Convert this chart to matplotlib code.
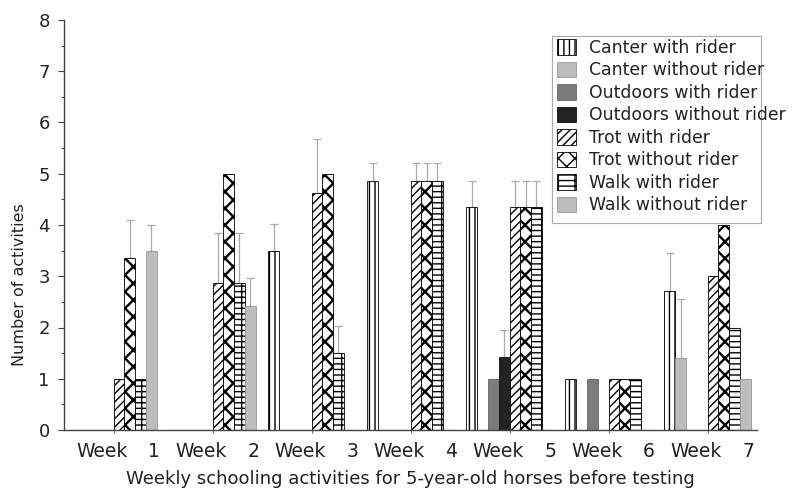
"""Weekly schooling activities for 5-year-old horses, grouped bars with hatching."""
import matplotlib

matplotlib.use("Agg")
import matplotlib.pyplot as plt
import matplotlib.patches as mpatches
import numpy as np

nan = np.nan

weeks = ["1", "2", "3", "4", "5", "6", "7"]

series_names = [
    "Canter with rider",
    "Canter without rider",
    "Outdoors with rider",
    "Outdoors without rider",
    "Trot with rider",
    "Trot without rider",
    "Walk with rider",
    "Walk without rider",
]

canter_with = [0, 0, 3.5, 4.85, 4.35, 1.0, 2.72]
canter_without = [0, 0, 0, 0, 0, 0, 1.4]
outdoors_with = [0, 0, 0, 0, 1.0, 1.0, 0]
outdoors_without = [0, 0, 0, 0, 1.42, 0, 0]
trot_with = [1.0, 2.86, 4.62, 4.85, 4.35, 1.0, 3.0]
trot_without = [3.35, 5.0, 5.0, 4.85, 4.35, 1.0, 4.0]
walk_with = [1.0, 2.86, 1.5, 4.85, 4.35, 1.0, 2.0]
walk_without = [3.5, 2.42, 0, 0, 0, 0, 1.0]

# upper error (SD) per bar, nan where none is drawn
canter_with_err = [nan, nan, 0.51, 0.35, 0.5, nan, 0.73]
canter_without_err = [nan, nan, nan, nan, nan, nan, 1.15]
outdoors_with_err = [nan] * 7
outdoors_without_err = [nan, nan, nan, nan, 0.54, nan, nan]
trot_with_err = [nan, 0.98, 1.06, 0.35, 0.5, nan, nan]
trot_without_err = [0.75, nan, nan, 0.35, 0.5, nan, nan]
walk_with_err = [nan, 0.98, 0.52, 0.35, 0.5, nan, nan]
walk_without_err = [0.5, 0.55, nan, nan, nan, nan, nan]


def main():
    values = [canter_with, canter_without, outdoors_with, outdoors_without,
              trot_with, trot_without, walk_with, walk_without]
    errors = [canter_with_err, canter_without_err, outdoors_with_err,
              outdoors_without_err, trot_with_err, trot_without_err,
              walk_with_err, walk_without_err]
    # (facecolor, edgecolor, hatch, hatch linewidth)
    styles = [
        ("white", "black", "|||", 1.0),
        ("#bdbdbd", "#9a9a9a", None, 1.0),
        ("#7c7c7c", "#666666", None, 1.0),
        ("#222222", "#111111", None, 1.0),
        ("white", "black", "////", 1.0),
        ("white", "black", "xx", 1.7),
        ("white", "black", "---|", 1.0),
        ("#bdbdbd", "#9a9a9a", None, 1.0),
    ]

    plt.rcParams["font.family"] = "DejaVu Sans"

    fig = plt.figure(figsize=(7.92, 4.9), dpi=100)
    ax = fig.add_axes([64 / 792, 60 / 490, 693 / 792, 410 / 490])

    x = np.arange(len(weeks))
    width = 0.109
    for k, (vals, errs, (fc, ec, hatch, hlw), name) in enumerate(
        zip(values, errors, styles, series_names)
    ):
        pos = x + (k - 3.5) * width
        vals = np.array(vals, dtype=float)
        errs = np.array(errs, dtype=float)
        ax.errorbar(pos, vals, yerr=[np.zeros_like(errs), errs], fmt="none",
                    ecolor="#aaaaaa", elinewidth=0.9, capsize=3, capthick=0.9,
                    zorder=1)
        plt.rcParams["hatch.linewidth"] = hlw
        ax.bar(pos, np.where(vals > 0, vals, nan), width, color=fc,
               edgecolor=ec, hatch=hatch, linewidth=0.6, label=name, zorder=2)
    plt.rcParams["hatch.linewidth"] = 1.0

    ax.set_xlim(-0.5, 6.5)
    ax.set_ylim(0, 8)
    ax.set_yticks(range(9))
    ax.set_yticks(np.arange(0.5, 8, 1), minor=True)
    ax.set_xticks(x)
    ax.set_xticklabels([""] * len(weeks))
    ax.tick_params(axis="y", which="major", length=4.3, width=0.8,
                   color="#444444", labelsize=13, pad=6, labelcolor="#222222")
    ax.tick_params(axis="y", which="minor", length=2.4, width=0.8,
                   color="#444444")
    ax.tick_params(axis="x", length=2.5, width=0.6, color="#444444")
    for side in ("top", "right"):
        ax.spines[side].set_visible(False)
    for side in ("left", "bottom"):
        ax.spines[side].set_color("#444444")
        ax.spines[side].set_linewidth(1.0)

    tr = ax.get_xaxis_transform()
    for i, w in enumerate(weeks):
        ax.text(i - 0.37, -0.066, "Week", transform=tr, ha="left",
                va="baseline", fontsize=13.5, color="#222222")
        ax.text(i + 0.47, -0.066, w, transform=tr, ha="right",
                va="baseline", fontsize=13.5, color="#222222")
    ax.text(0.5, -0.132,
            "Weekly schooling activities for 5-year-old horses before testing",
            transform=ax.transAxes, ha="center", va="baseline", fontsize=13,
            color="#222222")
    fig.text(20 / 792, 1 - 285 / 490, "Number of activities", rotation=90,
             ha="center", va="center", fontsize=11.5, color="#222222")

    # legend box drawn on its own: in the original the text runs past it
    box = mpatches.Rectangle(
        (552 / 792, 1 - 223 / 490), 209 / 792, 187 / 490,
        transform=fig.transFigure, facecolor="white", edgecolor="#aaaaaa",
        linewidth=0.8, zorder=4, clip_on=False)
    ax.add_patch(box)
    leg = ax.legend(loc="upper left", bbox_to_anchor=(557 / 792, 1 - 39 / 490),
                    bbox_transform=fig.transFigure, frameon=False,
                    fontsize=12.4, borderpad=0, borderaxespad=0,
                    labelspacing=0.26, handlelength=1.1, handleheight=1.0,
                    handletextpad=0.75)
    leg.set_zorder(5)
    for t in leg.get_texts():
        t.set_color("#222222")

    fig.savefig("out.png", dpi=100)


if __name__ == "__main__":
    main()
